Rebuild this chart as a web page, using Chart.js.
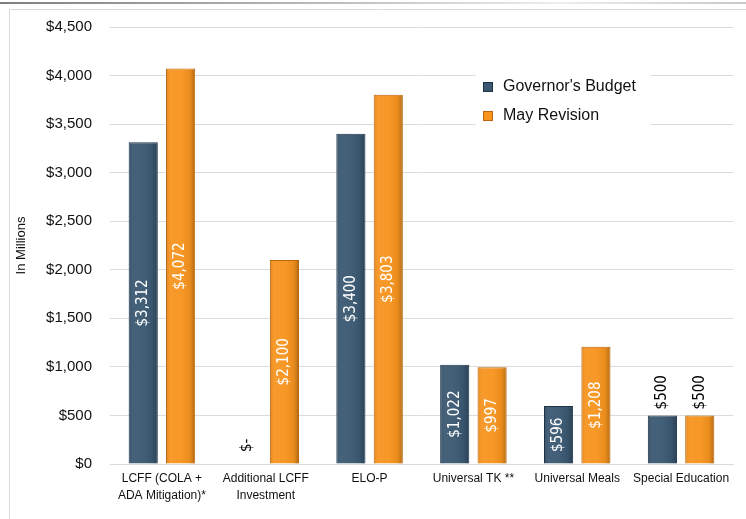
<!DOCTYPE html>
<html>
<head>
<meta charset="utf-8">
<script src="https://cdn.jsdelivr.net/npm/chart.js@4.4.0/dist/chart.umd.min.js"></script>
<style>
  html, body { margin: 0; padding: 0; background: #ffffff; }
  #wrap { width: 746px; height: 519px; }
</style>
</head>
<body>
<div id="wrap"><canvas id="budgetChart" width="746" height="519"></canvas></div>
<script>
// Budget comparison - grouped bars, Governor's Budget vs May Revision

const categories = [
    ['LCFF (COLA +', 'ADA Mitigation)*'],
    ['Additional LCFF', 'Investment'],
    'ELO-P',
    'Universal TK **',
    'Universal Meals',
    'Special Education'
];
const governorsBudget = [3312, 0, 3400, 1022, 596, 500];
const mayRevision = [4072, 2100, 3803, 997, 1208, 500];
const yTickValues = [0, 500, 1000, 1500, 2000, 2500, 3000, 3500, 4000, 4500];

const NAVY = '#3a5872';
const NAVY_EDGE = '#1e3345';
const ORANGE = '#f7941e';
const ORANGE_EDGE = '#b9660a';

function money(v) {
    return '$' + v.toLocaleString('en-US');
}

// page frame and the thin rule across the top
const framePlugin = {
    id: 'frame',
    beforeDraw(chart) {
        const ctx = chart.ctx;
        ctx.save();
        ctx.fillStyle = '#ffffff';
        ctx.fillRect(0, 0, chart.width, chart.height);

        const g = ctx.createLinearGradient(0, 0, chart.width, 0);
        g.addColorStop(0, '#7f7f7f');
        g.addColorStop(0.45, '#bdbdbd');
        g.addColorStop(0.75, '#eeeeee');
        g.addColorStop(1, '#c8c8c8');
        ctx.fillStyle = g;
        ctx.fillRect(0, 2, chart.width, 2);

        ctx.strokeStyle = '#d9d9d9';
        ctx.lineWidth = 1;
        ctx.beginPath();
        ctx.moveTo(9.5, chart.height);
        ctx.lineTo(9.5, 9.5);
        ctx.lineTo(chart.width, 9.5);
        ctx.stroke();
        ctx.restore();
    }
};

// soft shading across each bar for the raised look
const shadePlugin = {
    id: 'shade',
    afterDatasetsDraw(chart) {
        const ctx = chart.ctx;
        ctx.save();
        chart.data.datasets.forEach((ds, i) => {
            chart.getDatasetMeta(i).data.forEach(bar => {
                const h = bar.base - bar.y;
                if (h <= 1) return;
                const left = bar.x - bar.width / 2;
                const g = ctx.createLinearGradient(left, 0, left + bar.width, 0);
                g.addColorStop(0, 'rgba(0,0,0,0.10)');
                g.addColorStop(0.15, 'rgba(255,255,255,0.06)');
                g.addColorStop(0.5, 'rgba(255,255,255,0.04)');
                g.addColorStop(0.82, 'rgba(0,0,0,0.06)');
                g.addColorStop(1, 'rgba(0,0,0,0.28)');
                ctx.fillStyle = g;
                ctx.fillRect(left + 1, bar.y + 1, bar.width - 2, h - 1);
            });
        });
        ctx.restore();
    }
};

// rotated value labels: inside tall bars, above short ones
const valueLabels = {
    id: 'valueLabels',
    afterDatasetsDraw(chart) {
        const ctx = chart.ctx;
        ctx.save();
        ctx.font = '15px "DejaVu Sans Condensed", "DejaVu Sans", sans-serif';
        ctx.textBaseline = 'middle';
        chart.data.datasets.forEach((ds, i) => {
            chart.getDatasetMeta(i).data.forEach((bar, j) => {
                const v = ds.data[j];
                ctx.save();
                if (v === 0) {
                    ctx.translate(bar.x, bar.base - 12);
                    ctx.rotate(-Math.PI / 2);
                    ctx.fillStyle = '#000000';
                    ctx.textAlign = 'left';
                    ctx.fillText('$-', 0, 0);
                } else if (v <= 500) {
                    ctx.translate(bar.x, bar.y - 6);
                    ctx.rotate(-Math.PI / 2);
                    ctx.fillStyle = '#000000';
                    ctx.textAlign = 'left';
                    ctx.fillText(money(v), 0, 0);
                } else {
                    ctx.translate(bar.x, (bar.y + bar.base) / 2);
                    ctx.rotate(-Math.PI / 2);
                    ctx.fillStyle = '#ffffff';
                    ctx.textAlign = 'center';
                    ctx.fillText(money(v), 0, 0);
                }
                ctx.restore();
            });
        });
        ctx.restore();
    }
};

// legend box sitting over the grid
const legendBox = {
    id: 'legendBox',
    afterDatasetsDraw(chart) {
        const ctx = chart.ctx;
        const x0 = 476, y0 = 68;
        ctx.save();
        ctx.fillStyle = '#ffffff';
        ctx.fillRect(x0, y0, 174, 62);
        ctx.font = '16px "Liberation Sans", Arial, sans-serif';
        ctx.textBaseline = 'middle';
        ctx.textAlign = 'left';
        chart.data.datasets.forEach((ds, i) => {
            const cy = y0 + 19 + i * 29;
            ctx.fillStyle = ds.backgroundColor;
            ctx.fillRect(x0 + 7, cy - 5, 10, 10);
            ctx.strokeStyle = ds.borderColor;
            ctx.lineWidth = 1;
            ctx.strokeRect(x0 + 7.5, cy - 4.5, 9, 9);
            ctx.fillStyle = '#111111';
            ctx.fillText(ds.label, x0 + 27, cy);
        });
        ctx.restore();
    }
};

const ctx = document.getElementById('budgetChart').getContext('2d');

new Chart(ctx, {
    type: 'bar',
    data: {
        labels: categories,
        datasets: [{
            label: "Governor's Budget",
            data: governorsBudget,
            backgroundColor: NAVY,
            borderColor: NAVY_EDGE,
            borderWidth: 1,
            borderSkipped: 'bottom',
            categoryPercentage: 0.72,
            barPercentage: 0.78
        }, {
            label: 'May Revision',
            data: mayRevision,
            backgroundColor: ORANGE,
            borderColor: ORANGE_EDGE,
            borderWidth: 1,
            borderSkipped: 'bottom',
            categoryPercentage: 0.72,
            barPercentage: 0.78
        }]
    },
    options: {
        responsive: false,
        animation: false,
        layout: {
            padding: { top: 25, right: 13, bottom: 0, left: 0 }
        },
        plugins: {
            legend: { display: false },
            tooltip: { enabled: false }
        },
        scales: {
            x: {
                grid: { display: false, drawTicks: false },
                border: { display: true, color: '#d9d9d9', width: 1 },
                afterFit: function (scale) { scale.height = 55; },
                ticks: {
                    color: '#111111',
                    padding: 6,
                    maxRotation: 0,
                    autoSkip: false,
                    font: { size: 12, family: "'Liberation Sans', Arial, sans-serif", lineHeight: 1.45 }
                }
            },
            y: {
                min: 0,
                max: 4500,
                afterFit: function (scale) { scale.width = 110; },
                afterBuildTicks: function (scale) {
                    scale.ticks = yTickValues.map(v => ({ value: v }));
                },
                grid: {
                    color: '#dcdcdc',
                    lineWidth: 1,
                    drawTicks: false
                },
                border: { display: false },
                title: {
                    display: true,
                    text: 'In Millions',
                    color: '#111111',
                    padding: { top: 14, bottom: 0 },
                    font: { size: 13, family: "'Liberation Sans', Arial, sans-serif" }
                },
                ticks: {
                    color: '#111111',
                    padding: 18,
                    font: { size: 15, family: "'Liberation Sans', Arial, sans-serif" },
                    callback: function (value) { return money(value); }
                }
            }
        }
    },
    plugins: [framePlugin, shadePlugin, valueLabels, legendBox]
});
</script>
</body>
</html>
